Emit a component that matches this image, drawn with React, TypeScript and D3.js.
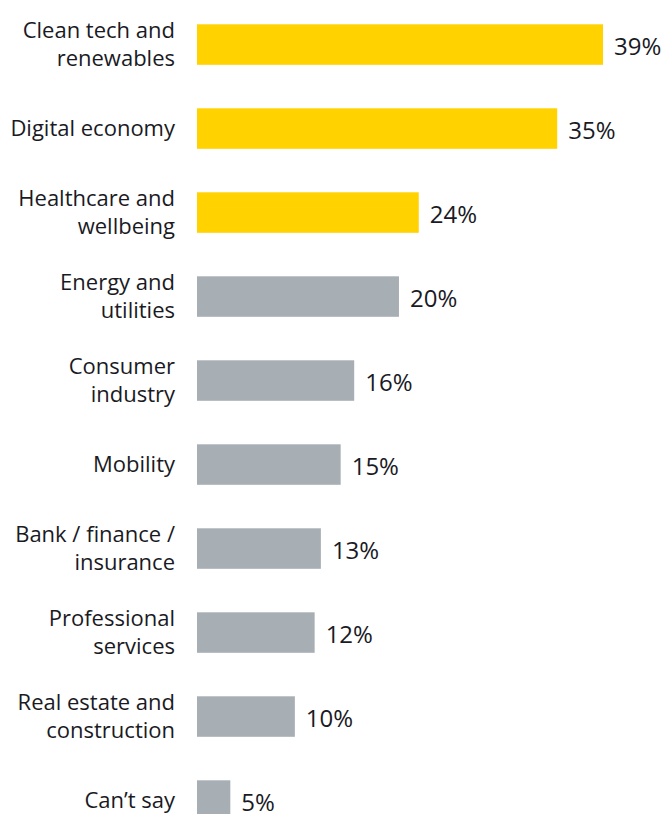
import React from "react";
import * as d3 from "d3";

// Category labels (line breaks as in the reference)
const categories: string[][] = [
  ["Clean tech and", "renewables"],
  ["Digital economy"],
  ["Healthcare and", "wellbeing"],
  ["Energy and", "utilities"],
  ["Consumer", "industry"],
  ["Mobility"],
  ["Bank / finance /", "insurance"],
  ["Professional", "services"],
  ["Real estate and", "construction"],
  ["Can\u2019t say"],
];
// Printed values
const valueLabels: number[] = [39, 35, 24, 20, 16, 15, 13, 12, 10, 5];
// Bar lengths as drawn in the reference (same % units)
const barValues: number[] = [39, 34.6, 21.3, 19.4, 15.1, 13.8, 11.9, 11.3, 9.4, 3.2];
// Highlighted (top three) categories
const highlighted: boolean[] = [true, true, true, false, false, false, false, false, false, false];

const W = 665;
const H = 814;

export default function App() {
  const x = d3.scaleLinear().domain([0, 39]).range([197, 603]);
  const step = 84;
  const bh = 40.5;
  const top = 24.3;
  const y = d3
    .scaleBand<number>()
    .domain(d3.range(categories.length))
    .range([top - (step - bh) / 2, top - (step - bh) / 2 + step * categories.length])
    .paddingInner((step - bh) / step)
    .paddingOuter((step - bh) / 2 / step);

  const font = "'Open Sans', sans-serif";
  const textColor = "#1a1a24";

  return (
    <svg
      width={W}
      height={H}
      style={{ position: "absolute", left: 0, top: 0, background: "#fff" }}
    >
      {categories.map((lines, i) => {
        const cy = (y(i) as number) + y.bandwidth() / 2;
        const lh = 28;
        const base0 = lines.length === 1 ? cy + 7 : cy - 7;
        return (
          <g key={i}>
            <rect
              x={x(0)}
              y={y(i)}
              width={x(barValues[i]) - x(0)}
              height={y.bandwidth()}
              fill={highlighted[i] ? "#ffd200" : "#a7aeb4"}
            />
            <text
              textAnchor="end"
              fontFamily={font}
              fontSize={22}
              fill={textColor}
            >
              {lines.map((l, j) => (
                <tspan key={j} x={175} y={base0 + j * lh}>
                  {l}
                </tspan>
              ))}
            </text>
            <text
              x={x(barValues[i]) + 11}
              y={cy + 10.5}
              fontFamily={font}
              fontSize={24}
              fill={textColor}
            >
              {valueLabels[i]}%
            </text>
          </g>
        );
      })}
    </svg>
  );
}
